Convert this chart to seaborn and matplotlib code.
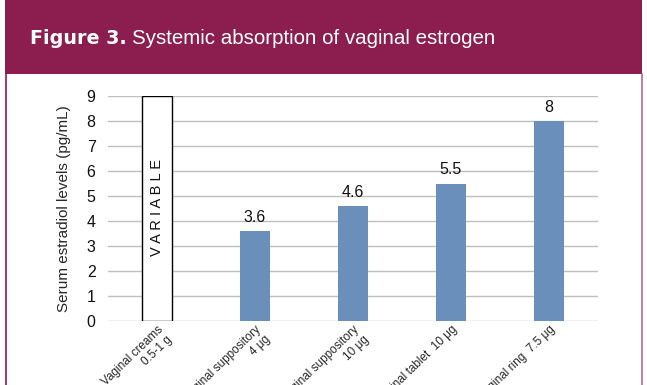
import matplotlib
matplotlib.use('Agg')
import matplotlib.pyplot as plt
import matplotlib.patches as patches
import seaborn as sns
import pandas as pd

# Chart data
categories = ['Vaginal creams\n0.5-1 g', 'Vaginal suppository\n4 μg', 'Vaginal suppository\n10 μg',
              'Vaginal tablet  10 μg', 'Vaginal ring  7.5 μg']
values = [9, 3.6, 4.6, 5.5, 8]
value_labels = ['', '3.6', '4.6', '5.5', '8']
yticks = [0, 1, 2, 3, 4, 5, 6, 7, 8, 9]

maroon = '#8B1E4F'
bar_blue = '#6A8FBA'

sns.set_theme(style='white')
plt.rcParams['font.family'] = ['Liberation Sans', 'DejaVu Sans']

df = pd.DataFrame({'category': categories, 'value': values})

fig = plt.figure(figsize=(6.47, 3.85), dpi=100)
fig.patch.set_facecolor('white')

# header band and frame lines
fig.add_artist(patches.Rectangle((5 / 647, 1 - 74 / 385), 637 / 647, 74 / 385,
                                 transform=fig.transFigure, facecolor=maroon, edgecolor='none'))
fig.add_artist(plt.Line2D([5.5 / 647, 5.5 / 647], [0, 1 - 74 / 385], transform=fig.transFigure,
                          color=maroon, lw=1.2))
fig.add_artist(plt.Line2D([641.5 / 647, 641.5 / 647], [0, 1 - 74 / 385], transform=fig.transFigure,
                          color='#B86A90', lw=1.2))

# bold part of the title, sized to the reference width
renderer = fig.canvas.get_renderer()
t1 = fig.text(30 / 647, 1 - 39 / 385, 'Figure 3.', color='white', fontsize=15,
              fontweight='bold', family='DejaVu Sans', va='center')
w = t1.get_window_extent(renderer).width
t1.set_fontsize(15 * 97 / w)
bb = t1.get_window_extent(renderer)
fig.text((bb.x1 + 5) / 647, 1 - 39 / 385, 'Systemic absorption of vaginal estrogen', color='white',
         fontsize=14.8, va='center')

ax = fig.add_axes([108 / 647, 1 - 321 / 385, 490 / 647, 225 / 385])
palette = ['white'] + [bar_blue] * 4
sns.barplot(data=df, x='category', y='value', hue='category', palette=palette, legend=False,
            width=0.31, saturation=1, ax=ax, zorder=3)
ax.patches[0].set_edgecolor('black')
ax.patches[0].set_linewidth(1.0)
for p in ax.patches[1:]:
    p.set_edgecolor('none')

ax.set_xlim(-0.5, 4.5)
ax.set_ylim(0, 9)
ax.set_yticks(yticks)
ax.yaxis.grid(True, color='#BFBFBF', lw=1.0, zorder=0)
ax.xaxis.grid(False)
for s in ax.spines.values():
    s.set_visible(False)
ax.tick_params(axis='y', labelsize=11.5, length=0, pad=9, colors='#111111')
ax.tick_params(axis='x', length=0, pad=2)
ax.set_xticks(range(len(categories)))
ax.set_xticklabels(categories, rotation=44, ha='right', rotation_mode='anchor',
                   fontsize=8.5, multialignment='right')
ax.set_xlabel('')
ax.set_ylabel('Serum estradiol levels (pg/mL)', fontsize=11, labelpad=11)

for i, lab in enumerate(value_labels):
    if lab:
        ax.text(i, values[i] + 0.25, lab, ha='center', va='bottom', fontsize=11.5, color='#111111')

ax.text(0, 4.55, 'V A R I A B L E', rotation=90, ha='center', va='center', fontsize=10.5,
        color='#111111', zorder=4)

fig.savefig('out.png', dpi=100)
